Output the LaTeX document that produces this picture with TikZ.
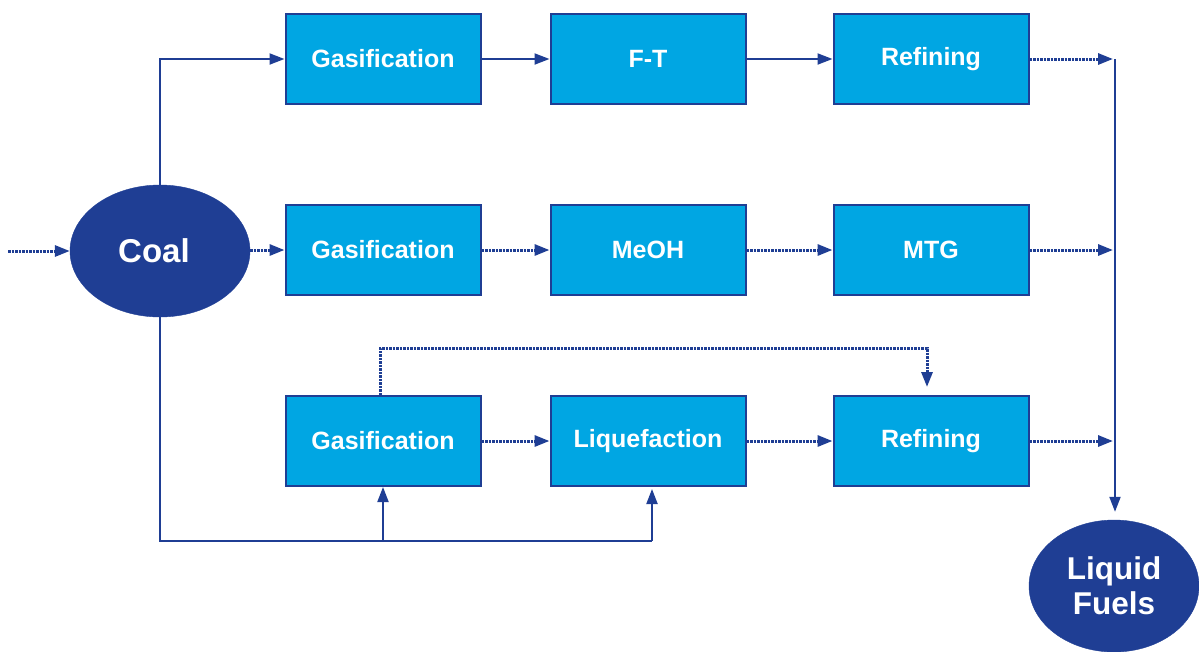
\documentclass[tikz,border=0pt]{standalone}
\usepackage{fontspec}
\setmainfont{Liberation Sans}
\usetikzlibrary{arrows.meta,shapes.geometric}
\definecolor{navy}{HTML}{1F3E94}
\definecolor{skyfill}{HTML}{00A6E3}
\tikzset{
  stepbox/.style={draw=navy, line width=2pt, fill=skyfill, minimum width=195pt,
    minimum height=90pt, inner sep=0pt, text=white, font=\bfseries\fontsize{25}{29}\selectfont},
  endpoint/.style={ellipse, draw=navy, fill=navy, inner sep=0pt, text=white,
    align=center},
  flow/.style={draw=navy, line width=2pt, -{Triangle[length=15pt,width=11pt]}},
  link/.style={draw=navy, line width=2pt},
  dots/.style={dash pattern=on 2.5pt off 1pt, line width=3pt},
}
\begin{document}
\begin{tikzpicture}[x=1pt,y=-1pt]
\useasboundingbox (0,0) rectangle (1199,651);

% sources and products
\node[endpoint, minimum width=180pt, minimum height=132pt,
  font=\bfseries\fontsize{33}{38}\selectfont] (coal) at (160,251) {\hspace*{-12pt}Coal};
\node[endpoint, minimum width=170pt, minimum height=132pt,
  font=\bfseries\fontsize{31.5}{35}\selectfont] (fuels) at (1114,586) {Liquid\\Fuels};

% process steps
\node[stepbox] (g1) at (383,59) {Gasification};
\node[stepbox] (ft) at (648,59) {F-T};
\node[stepbox] (r1) at (931,59) {Refining};
\node[stepbox] (g2) at (383,250) {Gasification};
\node[stepbox] (me) at (648,250) {MeOH};
\node[stepbox] (mtg) at (931,250) {MTG};
\node[stepbox] (g3) at (383,441) {Gasification};
\node[stepbox] (lq) at (648,441) {Liquefaction};
\node[stepbox] (r3) at (931,441) {Refining};

% collector line and junctions
\coordinate (in) at (8,251);
\coordinate (j1) at (1115,59);
\coordinate (j2) at (1115,250);
\coordinate (j3) at (1115,441);
\coordinate (bot) at (160,541);
\coordinate (hop) at (380,348);
\coordinate (lqin) at (652,541);

% feed
\draw[flow, dots] (in) -- (coal.west);

% route 1: Fischer-Tropsch
\draw[flow] (coal.north) |- (g1.west);
\draw[flow] (g1) -- (ft);
\draw[flow] (ft) -- (r1);
\draw[flow, dots, shorten >=2pt] (r1.east) -- (j1);

% route 2: methanol to gasoline
\draw[flow, dots] (coal.east |- g2) -- (g2.west);
\draw[flow, dots] (g2) -- (me);
\draw[flow, dots] (me) -- (mtg);
\draw[flow, dots, shorten >=2pt] (mtg.east) -- (j2);

% route 3: direct liquefaction
\draw[flow, dots] (g3) -- (lq);
\draw[flow, dots] (lq) -- (r3);
\draw[flow, dots, shorten >=2pt] (r3.east) -- (j3);
\draw[flow, dots, shorten >=8pt] (g3.north -| hop) -- (hop) -| (r3.north -| 927,0);
\draw[link] (coal.south) -- (bot) -- (lqin);
\draw[flow] (bot -| g3.south) -- (g3.south);
\draw[flow, shorten >=2pt] (lqin) -- (lq.south -| lqin);

% collector down to products
\draw[flow, shorten >=8pt] (j1) -- (fuels.north -| j1);
\end{tikzpicture}
\end{document}
